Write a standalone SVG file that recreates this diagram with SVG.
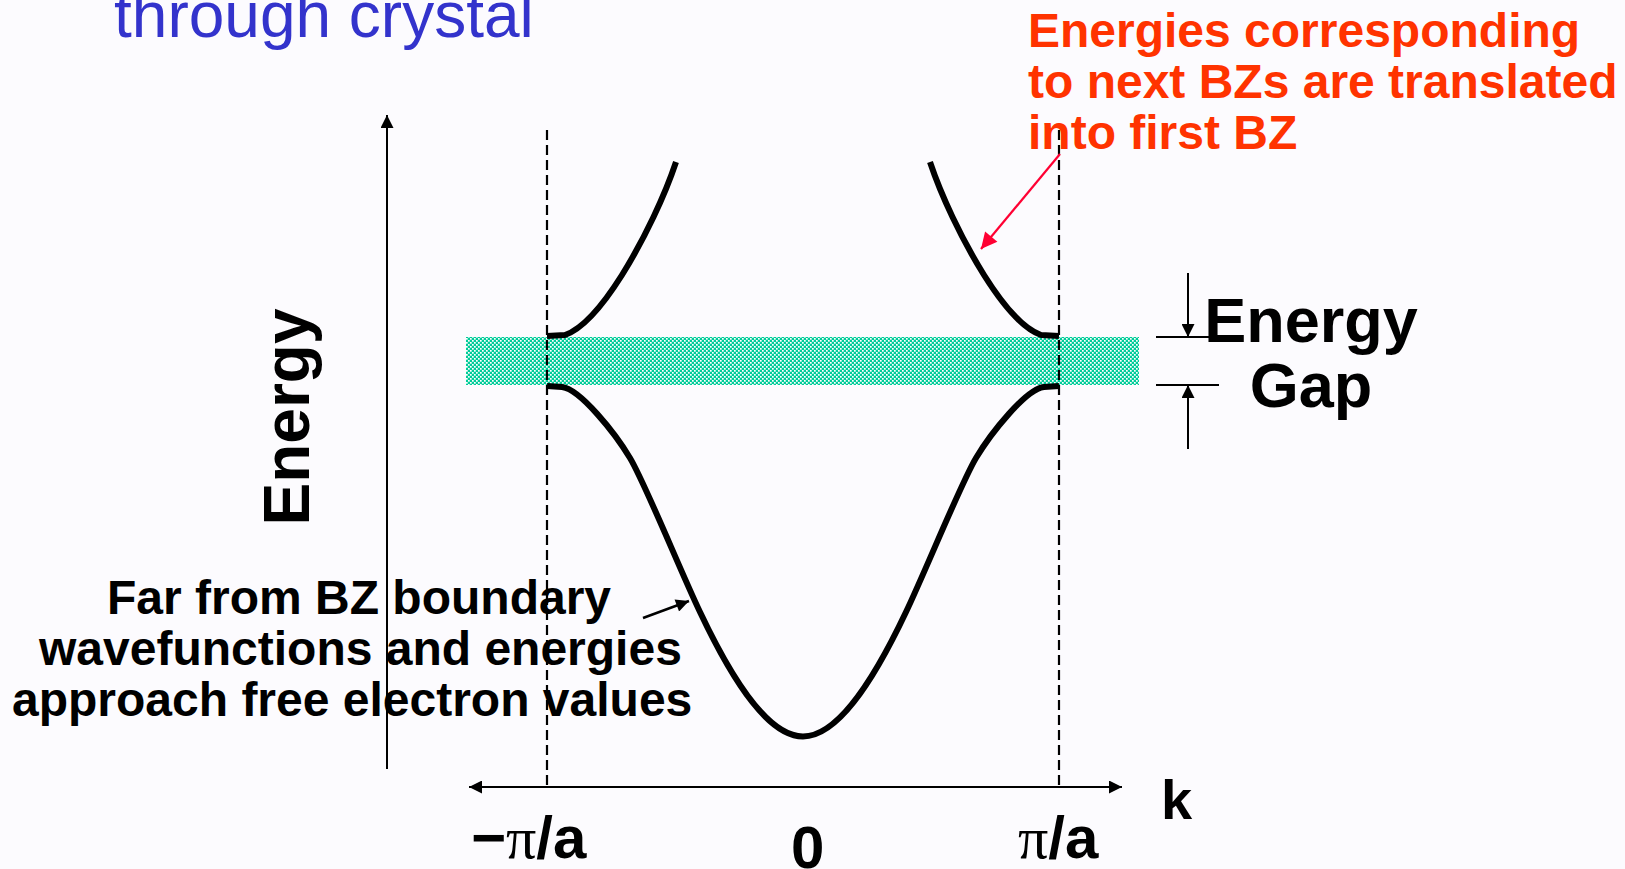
<svg xmlns="http://www.w3.org/2000/svg" width="1625" height="869" viewBox="0 0 1625 869">
<defs>
<style>
.bold{font-family:"Liberation Sans",Arial,sans-serif;font-weight:bold;}
.blk{fill:#000;}
.red{fill:#ff3300;}
.curve{fill:none;stroke:#000;stroke-width:6;stroke-linejoin:round;}
.dash{fill:none;stroke:#000;stroke-width:2.2;stroke-dasharray:10 5;}
.axis{fill:none;stroke:#000;stroke-width:2;}
</style>
<marker id="ah" viewBox="0 0 10 10" refX="10" refY="5" markerWidth="15" markerHeight="13" markerUnits="userSpaceOnUse" orient="auto-start-reverse">
<path d="M0,0 L10,5 L0,10 z" fill="#000"/>
</marker>
<marker id="ahr" viewBox="0 0 10 10" refX="10" refY="5" markerWidth="20" markerHeight="16" markerUnits="userSpaceOnUse" orient="auto">
<path d="M0,0 L10,5 L0,10 z" fill="#ff0033"/>
</marker>
<pattern id="chk" width="4" height="4" patternUnits="userSpaceOnUse">
<rect width="4" height="4" fill="#00cc99"/>
<rect x="0" y="0" width="1.7" height="1.7" fill="#ffffff"/>
<rect x="2" y="2" width="1.7" height="1.7" fill="#ffffff"/>
</pattern>
</defs>
<rect width="1625" height="869" fill="#fcfbfe"/>

<g id="title">
<text x="114" y="37" font-family="Liberation Sans, Arial, sans-serif" font-size="64" fill="#3333cc">through crystal</text>
</g>

<g id="band">
<rect x="466" y="337" width="673" height="48" fill="url(#chk)"/>
</g>

<g id="axes">
<line class="axis" x1="387" y1="769" x2="387" y2="115" marker-end="url(#ah)"/>
<line class="axis" x1="469" y1="787" x2="1122" y2="787" marker-start="url(#ah)" marker-end="url(#ah)"/>
<line class="dash" x1="547" y1="130" x2="547" y2="787"/>
<line class="dash" x1="1059" y1="130" x2="1059" y2="787"/>
</g>

<g id="bands">
<path class="curve" d="M547,336 L565,335 C585,328 605,302 622,275 C645,238 665,195 676,162"/>
<path class="curve" d="M1059,336 L1041,335 C1021,328 1001,302 984,275 C961,238 941,195 930,162"/>
<path class="curve" d="M547,386 L562,387 C580,389 615,433 630,458 C645,483 680,570 700,612 C735,686 770,736.5 803,736.5 C836,736.5 871,686 906,612 C926,570 961,483 976,458 C991,433 1026,389 1044,387 L1059,386"/>
</g>

<g id="energy-label">
<text class="bold blk" transform="translate(309,417) rotate(-90)" font-size="64" text-anchor="middle">Energy</text>
</g>

<g id="gap-label">
<text class="bold blk" x="1311" y="342" font-size="63" text-anchor="middle">Energy</text>
<text class="bold blk" x="1311" y="407" font-size="63" text-anchor="middle">Gap</text>
<line class="axis" x1="1156" y1="337" x2="1210" y2="337"/>
<line class="axis" x1="1156" y1="385" x2="1219" y2="385"/>
</g>

<g id="zone-annotation">
<text class="bold red" font-size="48"><tspan x="1028" y="47">Energies corresponding</tspan><tspan x="1028" y="98">to next BZs are translated</tspan><tspan x="1028" y="149">into first BZ</tspan></text>
</g>

<g id="free-annotation">
<text class="bold blk" font-size="48"><tspan x="107" y="614">Far from BZ boundary</tspan><tspan x="39" y="665">wavefunctions and energies</tspan><tspan x="12" y="716">approach free electron values</tspan></text>
</g>

<g id="k-labels">
<text class="bold blk" x="1161" y="819" font-size="56">k</text>
<text class="bold blk" x="471" y="858" font-size="60">−<tspan font-family="Liberation Serif, serif" font-weight="normal">π</tspan>/a</text>
<text class="bold blk" x="791" y="868" font-size="60">0</text>
<text class="bold blk" x="1018" y="858" font-size="60"><tspan font-family="Liberation Serif, serif" font-weight="normal">π</tspan>/a</text>
</g>

<g id="connectors">
<line x1="1060" y1="154" x2="981" y2="249" stroke="#ff0033" stroke-width="2.2" marker-end="url(#ahr)"/>
<line x1="643" y1="618" x2="689" y2="601" stroke="#000" stroke-width="2.5" marker-end="url(#ah)"/>
<line class="axis" x1="1188" y1="273" x2="1188" y2="337" marker-end="url(#ah)"/>
<line class="axis" x1="1188" y1="449" x2="1188" y2="385" marker-end="url(#ah)"/>
</g>
</svg>
